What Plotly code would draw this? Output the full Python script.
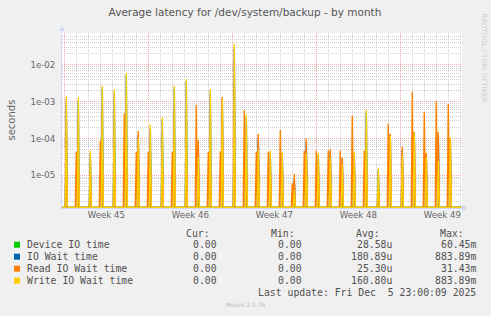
import numpy as np
import pandas as pd
import plotly.graph_objects as go

# ---------------- data ----------------
TITLE = "Average latency for /dev/system/backup - by month"

# one spike group per day (backup runs), Nov 3 .. Dec 5 2025
spike_days = pd.date_range("2025-11-03", "2025-12-05", freq="D")

# 2-hour averages (seconds) at 00:00 of each day
read_early = [0, 4.4e-5, 0, 8.7e-5, 0, 4.7e-4, 4.4e-5, 4.4e-5, 0, 4.4e-5, 0,
              8.3e-4, 4.4e-5, 4.5e-5, 0, 6.0e-4, 4.4e-5, 4.4e-5, 1.7e-4, 6.2e-6,
              4.7e-5, 4.7e-5, 4.7e-5, 4.7e-5, 4.2e-4, 4.7e-5, 0, 2.5e-4, 0,
              1.85e-3, 5.3e-4, 1.05e-3, 8.7e-4]
# 2-hour averages (seconds) at 04:00 of each day
read_late = [2e-5, 2e-5, 1e-5, 3e-5, 2e-5, 3e-5, 1.6e-4, 2e-5, 2e-5, 2e-5, 2e-5,
             9e-5, 2e-5, 1.35e-3, 3e-5, 2e-5, 1.35e-4, 2e-5, 2e-5, 1.1e-5,
             1.0e-4, 2e-5, 5.2e-5, 3.1e-5, 2e-5, 2e-5, 5e-6, 1.35e-4, 6e-5,
             1.5e-4, 4.1e-5, 1.5e-4, 1.05e-4]
write_late = [1.4e-3, 1.3e-3, 4.7e-5, 2.7e-3, 2.1e-3, 6.0e-3, 1.0e-4, 2.4e-4,
              3.8e-4, 2.7e-3, 4.1e-3, 3e-5, 2.2e-3, 1.2e-3, 3.7e-2, 4.4e-4,
              5e-5, 4.7e-5, 4.4e-5, 4e-6, 4e-5, 4.1e-5, 3e-5, 2e-5, 4.4e-5,
              6.0e-4, 1.6e-5, 1.2e-4, 3.5e-5, 1.35e-4, 3e-5, 2.5e-5, 1.0e-4]
iowait_late = [1.2e-3, 1.1e-3, 4e-5, 2.3e-3, 1.8e-3, 5e-3, 1.2e-4, 2e-4,
               3.2e-4, 2.3e-3, 3.5e-3, 5e-5, 1.9e-3, 1.2e-3, 3e-2, 3.8e-4,
               1e-4, 4e-5, 4e-5, 8e-6, 8e-5, 3.5e-5, 4.5e-5, 2.8e-5, 4e-5,
               5e-4, 1.4e-5, 1.3e-4, 5e-5, 1.4e-4, 3.5e-5, 1.3e-4, 1.0e-4]
device_late = [1.5e-6, 1.5e-6, 3.0e-6, 1.5e-6, 1.5e-6, 1.5e-6, 1.5e-6, 1.5e-6,
               1.5e-6, 1.5e-6, 1.5e-6, 3.4e-6, 1.5e-6, 1.5e-6, 1.5e-6, 1.5e-6,
               1.5e-6, 1.5e-6, 2.7e-6, 1.5e-6, 1.5e-6, 1.5e-6, 1.5e-6, 3.0e-6,
               2.8e-6, 1.5e-6, 2.5e-6, 1.5e-6, 2.5e-6, 1.5e-6, 1.5e-6, 1.5e-6,
               1.5e-6]

week_labels = ["Week 45", "Week 46", "Week 47", "Week 48", "Week 49"]
week_label_pos = ["2025-11-06 12:00", "2025-11-13 12:00", "2025-11-20 12:00",
                  "2025-11-27 12:00", "2025-12-04 12:00"]
week_starts = ["2025-11-03", "2025-11-10", "2025-11-17", "2025-11-24", "2025-12-01"]

y_tickvals = [1e-5, 1e-4, 1e-3, 1e-2]
y_ticktext = ["1e-05", "1e-04", "1e-03", "1e-02"]

legend_names = ["Device IO time", "IO Wait time", "Read IO Wait time", "Write IO Wait time"]
legend_colors = ["#00CC00", "#0066B3", "#FF8000", "#FFCC00"]
cur_vals = ["0.00", "0.00", "0.00", "0.00"]
min_vals = ["0.00", "0.00", "0.00", "0.00"]
avg_vals = ["28.58u", "180.89u", "25.30u", "160.80u"]
max_vals = ["60.45m", "883.89m", "31.43m", "883.89m"]
last_update = "Last update: Fri Dec  5 23:00:09 2025"

# ---------------- build 2-hourly series ----------------
X_RANGE = ["2025-11-02 19:24", "2025-12-06 03:24"]
Y_RANGE = [-5.886, -1.133]
times = pd.date_range("2025-11-02 20:00", "2025-12-06 02:00", freq="2h")


def series(early, late):
    s = pd.Series(0.0, index=times)
    for i, d in enumerate(spike_days):
        if early is not None:
            s[d] = early[i]
        s[d + pd.Timedelta(hours=4)] = late[i]
    return s


floor = 10 ** (Y_RANGE[0] + 0.012)  # rrdtool draws zero at the bottom edge
data = [
    (legend_names[0], legend_colors[0], series(None, device_late)),
    (legend_names[1], legend_colors[1], series(None, iowait_late)),
    (legend_names[2], legend_colors[2], series(read_early, read_late)),
    (legend_names[3], legend_colors[3], series(None, write_late)),
]

fig = go.Figure()
for name, color, s in data:
    fig.add_trace(go.Scatter(
        x=s.index, y=np.maximum(s.values, floor), mode="lines", name=name,
        line=dict(color=color, width=1.4), hoverinfo="skip", showlegend=False))
# invisible trace so the label axis exists
fig.add_trace(go.Scatter(x=[times[0]], y=[None], xaxis="x2", mode="lines",
                         showlegend=False, hoverinfo="skip"))

L, R, T, B = 62, 462, 33, 208
W, H = 491, 316


def px(x):
    return (x - L) / (R - L)


def py(y):
    return (B - y) / (B - T)


MINOR_GRID = "#d0d0d0"
MAJOR_GRID = "#efaaaa"
AXIS = "#CFD6F8"

fig.update_layout(
    width=W, height=H,
    margin=dict(l=L, r=W - R, t=T, b=H - B, pad=0),
    paper_bgcolor="#F0F0F0", plot_bgcolor="#FFFFFF",
    showlegend=False,
    font=dict(family="DejaVu Sans", size=9, color="#666666"),
    title=dict(text=TITLE, xref="container", x=245 / W, xanchor="center",
               yref="container", y=1 - 12 / H, yanchor="middle",
               font=dict(size=10.5, color="#555555")),
    xaxis=dict(type="date", range=X_RANGE, tickmode="array", tickvals=week_starts,
               showticklabels=False, ticks="", showgrid=True, gridcolor=MAJOR_GRID,
               griddash="1px,1px", gridwidth=1, zeroline=False,
               showline=True, linecolor=AXIS, linewidth=1,
               minor=dict(dtick=86400000, tick0="2025-11-03", showgrid=True,
                          gridcolor=MINOR_GRID, griddash="1px,1px", gridwidth=1, ticks="")),
    xaxis2=dict(type="date", range=X_RANGE, overlaying="x", side="bottom", anchor="y",
                tickmode="array", tickvals=week_label_pos, ticktext=week_labels,
                showgrid=False, ticks="", zeroline=False, showline=False,
                tickfont=dict(size=8.6, color="#666666")),
    yaxis=dict(type="log", range=Y_RANGE, tickmode="array", tickvals=y_tickvals,
               ticktext=y_ticktext, ticks="", showgrid=True, gridcolor=MAJOR_GRID,
               griddash="1px,1px", gridwidth=1, zeroline=False,
               showline=True, linecolor=AXIS, linewidth=1,
               tickfont=dict(size=8.6, color="#666666"), ticklabelstandoff=4,
               minor=dict(tickvals=[m * 10.0 ** e for e in range(-6, -1) for m in range(2, 10)],
                          showgrid=True, gridcolor=MINOR_GRID, griddash="1px,1px",
                          gridwidth=1, ticks="")),
)

annotations = []
shapes = []
# y axis label
annotations.append(dict(text="seconds", xref="paper", yref="paper", x=px(10.5), y=py(120),
                        xanchor="center", yanchor="middle", textangle=-90, showarrow=False,
                        font=dict(size=10, color="#666666")))
# rrdtool watermark
annotations.append(dict(text="RRDTOOL / TOBI OETIKER", xref="paper", yref="paper",
                        x=px(484), y=py(57.5), xanchor="center", yanchor="middle",
                        textangle=90, showarrow=False, font=dict(size=6.9, color="#cccccc")))
# axis arrows
shapes.append(dict(type="path", xref="paper", yref="paper", line=dict(width=0),
                   fillcolor=AXIS,
                   path=f"M {px(59)} {py(31)} L {px(65)} {py(31)} L {px(62)} {py(26)} Z"))
shapes.append(dict(type="path", xref="paper", yref="paper", line=dict(width=0),
                   fillcolor=AXIS,
                   path=f"M {px(462)} {py(205)} L {px(462)} {py(211)} L {px(467)} {py(208)} Z"))

MONO = "DejaVu Sans Mono"
TXT = "#505050"
FS = 9.8
header_y = 233
row_y = [244.7, 256.7, 268.7, 280.7]
col_head = [("Cur:", 211), ("Min:", 296), ("Avg:", 380.5), ("Max:", 465)]
col_val_right = [217.5, 302.5, 392.5, 477]
for text, xr in col_head:
    annotations.append(dict(text=text, xref="paper", yref="paper", x=px(xr), y=py(header_y),
                            xanchor="right", yanchor="middle", showarrow=False, borderpad=0,
                            font=dict(family=MONO, size=FS, color=TXT)))
for i, name in enumerate(legend_names):
    yc = row_y[i]
    shapes.append(dict(type="rect", xref="paper", yref="paper",
                       x0=px(14), x1=px(20), y0=py(yc + 3), y1=py(yc - 3),
                       fillcolor=legend_colors[i], line=dict(width=0)))
    annotations.append(dict(text=name, xref="paper", yref="paper", x=px(25.5), y=py(yc),
                            xanchor="left", yanchor="middle", showarrow=False, borderpad=0,
                            font=dict(family=MONO, size=FS, color=TXT)))
    for vals, xr in zip([cur_vals, min_vals, avg_vals, max_vals], col_val_right):
        annotations.append(dict(text=vals[i], xref="paper", yref="paper", x=px(xr), y=py(yc),
                                xanchor="right", yanchor="middle", showarrow=False, borderpad=0,
                                font=dict(family=MONO, size=FS, color=TXT)))
annotations.append(dict(text=last_update.replace(" ", "&nbsp;"), xref="paper", yref="paper",
                        x=px(477), y=py(292), xanchor="right", yanchor="middle",
                        showarrow=False, borderpad=0, font=dict(family=MONO, size=FS, color=TXT)))
annotations.append(dict(text="Munin 2.0.76", xref="paper", yref="paper", x=px(245), y=py(304),
                        xanchor="center", yanchor="middle", showarrow=False, borderpad=0,
                        font=dict(size=6, color="#bbbbbb")))

fig.update_layout(annotations=annotations, shapes=shapes)
fig.write_html("out.html")
